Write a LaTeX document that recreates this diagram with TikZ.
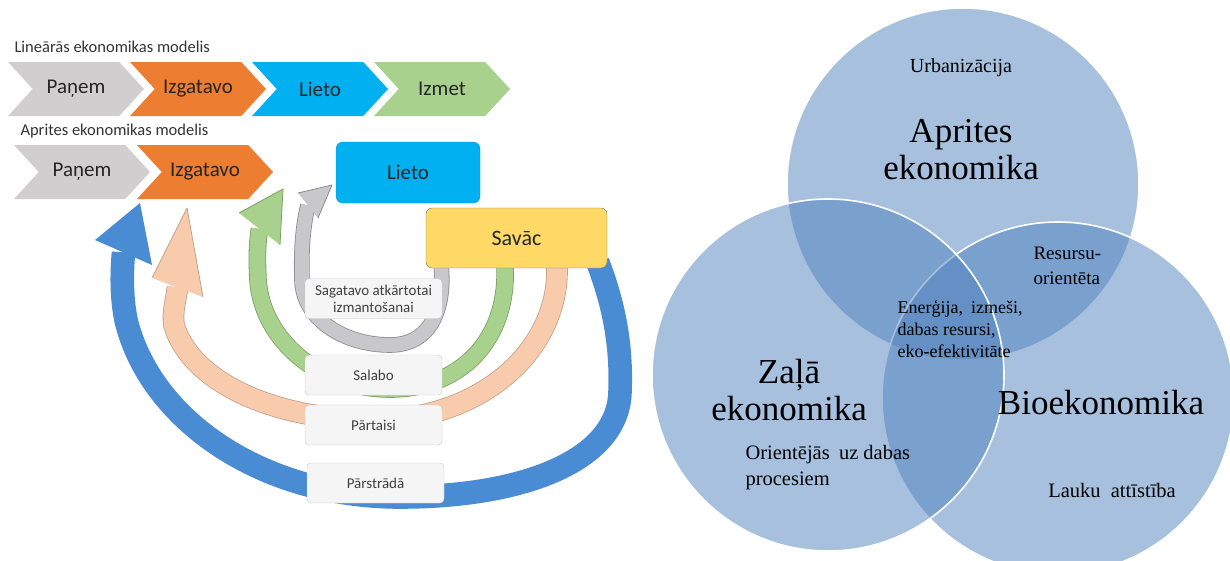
\documentclass[tikz,border=0pt]{standalone}
\usepackage{fontspec}
\setmainfont{Liberation Serif}
\newfontfamily\calfont{Carlito}
\usetikzlibrary{shapes.symbols}

\definecolor{chevgray}{RGB}{208,206,206}
\definecolor{chevorange}{RGB}{237,125,49}
\definecolor{chevblue}{RGB}{0,176,240}
\definecolor{chevgreen}{RGB}{169,209,142}
\definecolor{savyellow}{RGB}{255,217,102}
\definecolor{bluearr}{RGB}{74,140,212}
\definecolor{peach}{RGB}{248,203,173}
\definecolor{peachline}{RGB}{196,160,138}
\definecolor{greenarr}{RGB}{169,209,142}
\definecolor{greenline}{RGB}{120,160,95}
\definecolor{grayarr}{RGB}{200,200,204}
\definecolor{grayline}{RGB}{140,140,145}
\definecolor{vennblue}{RGB}{79,129,189}

\begin{document}
\begin{tikzpicture}[x=1pt,y=-1pt,
  chev/.style={shape=signal,signal to=east,signal from=west,signal pointer angle=95,
    minimum width=136pt,minimum height=54pt,inner sep=0pt,
    font=\calfont\fontsize{21}{21}\selectfont,text=black!85},
  lbox/.style={draw=gray!45,fill=gray!8,rounded corners=4pt,minimum width=137pt,
    minimum height=40pt,inner sep=1pt,align=center,font=\calfont\fontsize{15}{17}\selectfont,text=black!75},
  band/.style n args={3}{draw=#1,double=#2,double distance=#3,line width=0.8pt},
  venn/.style={circle,fill=vennblue,fill opacity=0.5,draw=white,line width=1.6pt,
    minimum size=352pt,inner sep=0pt},
  vbig/.style={align=center,font=\fontsize{35}{37}\selectfont},
  vsmall/.style={align=left,font=\fontsize{18}{22}\selectfont}]
\useasboundingbox (0,0) rectangle (1230,560);

\node[anchor=west,font=\calfont\fontsize{16.5}{16.5}\selectfont,text=black!80] (titlel) at (11,47) {Lineārās ekonomikas modelis};
\node[chev,fill=chevgray] (paneml) at (76,89) {Paņem};
\node[chev,fill=chevorange] (izgl) at (198,89) {Izgatavo};
\node[chev,fill=chevblue] (lietol) at (320,89) {Lieto};
\node[chev,fill=chevgreen] (izmetl) at (442,89) {Izmet};

\node[anchor=west,font=\calfont\fontsize{16.5}{16.5}\selectfont,text=black!80] (titlea) at (17,131) {Aprites ekonomikas modelis};
\node[chev,fill=chevgray] (panema) at (82,172) {Paņem};
\node[chev,fill=chevorange] (izga) at (205,172) {Izgatavo};
\node[draw=chevblue!85!black,fill=chevblue,rounded corners=7pt,minimum width=144pt,minimum height=61pt,
  font=\calfont\fontsize{21}{21}\selectfont,text=black!85] (lietoa) at (408,172.5) {Lieto};

\coordinate (bl_tip) at (140,203); \coordinate (bl_l) at (95,240); \coordinate (bl_r) at (152,265); \coordinate (bl_b) at (123.5,252.5);
\coordinate (pe_tip) at (187,208); \coordinate (pe_l) at (152,278); \coordinate (pe_r) at (203,297); \coordinate (pe_b) at (177.5,287.5);
\coordinate (gr_tip) at (283,189); \coordinate (gr_l) at (239,213); \coordinate (gr_r) at (280,245); \coordinate (gr_b) at (259.5,229);
\coordinate (gy_tip) at (332,185); \coordinate (gy_l) at (298,193); \coordinate (gy_r) at (318,218); \coordinate (gy_b) at (308,205.5);

\node[minimum width=181pt,minimum height=60pt] (savac) at (516.5,238) {};

\draw[band={bluearr}{bluearr}{22pt}] ([xshift=172pt,yshift=6pt]savac.south west) .. controls (612,300) and (622,340) .. (620,392)
  .. controls (618,462) and (520,497) .. (400,497) .. controls (262,497) and (150,420) .. (126,320)
  .. controls (121,295) and (122,270) .. (bl_b);
\fill[bluearr] (bl_tip) -- (bl_l) -- (bl_r) -- cycle;

\draw[band={peachline}{peach}{20pt}] ([xshift=131pt,yshift=6pt]savac.south west) .. controls (562,350) and (480,420) .. (375,420)
  .. controls (270,420) and (190,380) .. (174,325) .. controls (172,312) and (176,300) .. (pe_b);
\fill[peach] (pe_tip) -- (pe_l) -- (pe_r) -- cycle;
\draw[peachline,line width=0.8pt,line join=round] (pe_l) -- (pe_tip) -- (pe_r);

\draw[band={greenline}{greenarr}{16pt}] ([xshift=79pt,yshift=6pt]savac.south west) .. controls (510,340) and (460,389) .. (390,389)
  .. controls (320,389) and (262,340) .. (258,280) .. controls (257,260) and (257,245) .. (gr_b);
\fill[greenarr] (gr_tip) -- (gr_l) -- (gr_r) -- cycle;
\draw[greenline,line width=0.8pt,line join=round] (gr_l) -- (gr_tip) -- (gr_r);

\draw[band={grayline}{grayarr}{14pt}] ([xshift=15pt,yshift=6pt]savac.south west) .. controls (446,310) and (430,345) .. (390,345)
  .. controls (345,345) and (303,320) .. (302,280) .. controls (301,250) and (303,225) .. (gy_b);
\fill[grayarr] (gy_tip) -- (gy_l) -- (gy_r) -- cycle;
\draw[grayline,line width=0.8pt,line join=round] (gy_l) -- (gy_tip) -- (gy_r);

\node[draw=black!55,fill=savyellow,rounded corners=6pt,minimum width=181pt,minimum height=60pt,
  font=\calfont\fontsize{22}{22}\selectfont,text=black!85] at (savac) {Savāc};
\node[lbox] (sagatavo) at (373.5,298.5) {Sagatavo atkārtotai\\izmantošanai};
\node[lbox] (salabo) at (373.5,375) {Salabo};
\node[lbox] (partaisi) at (373.5,425) {Pārtaisi};
\node[lbox] (parstrada) at (375.5,483) {Pārstrādā};

\node[venn] (aprites) at (963,184) {};
\node[venn] (bio) at (1058,398) {};
\node[venn] (zala) at (828,375) {};

\node[font=\fontsize{20}{20}\selectfont] (urb) at (961,68) {Urbanizācija};
\node[vbig] (apritest) at (961,150) {Aprites\\ekonomika};
\node[vsmall,anchor=west,font=\fontsize{19}{25}\selectfont] (resursu) at (1030,266) {Resursu-\\orientēta};
\node[vsmall,anchor=west] (energija) at (894,329) {Enerģija,\hspace{0.45em}izmeši,\\dabas resursi,\\eko-efektivitāte};
\node[vbig] (zalat) at (789,390) {Zaļā\\ekonomika};
\node[vbig] (biot) at (1101,403) {Bioekonomika};
\node[vsmall,anchor=west,font=\fontsize{20.5}{26}\selectfont] (orient) at (742,468) {Orientējās\hspace{0.45em}uz dabas\\procesiem};
\node[font=\fontsize{20.5}{20.5}\selectfont] (lauku) at (1112,490) {Lauku\hspace{0.5em}attīstība};
\end{tikzpicture}
\end{document}
